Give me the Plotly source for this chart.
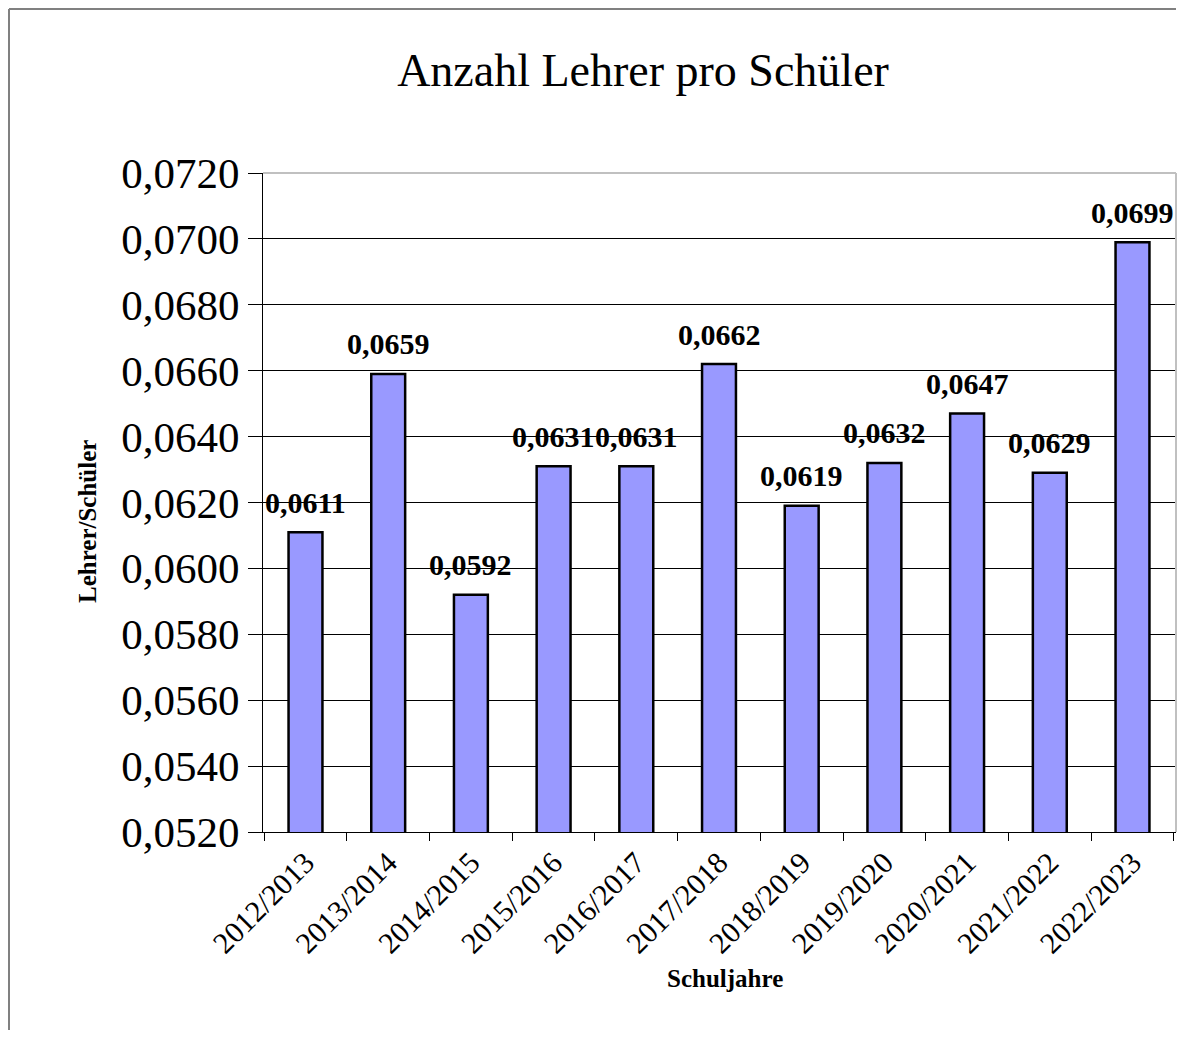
import plotly.graph_objects as go

categories = ["2012/2013", "2013/2014", "2014/2015", "2015/2016", "2016/2017",
              "2017/2018", "2018/2019", "2019/2020", "2020/2021", "2021/2022", "2022/2023"]
values = [0.0611, 0.0659, 0.0592, 0.0631, 0.0631, 0.0662, 0.0619, 0.0632, 0.0647, 0.0629, 0.0699]
y_ticks = [0.052, 0.054, 0.056, 0.058, 0.060, 0.062, 0.064, 0.066, 0.068, 0.070, 0.072]

OFF = 8  # page body margin
W, H = 1190 - 2 * OFF, 1039 - 2 * OFF
L, T = 263 - OFF, 173 - OFF
R = W - (1176 - OFF)
B = H - (832 - OFF)
pw, ph = W - L - R, H - T - B


def px_x(x):
    return (x - OFF - L) / pw


def px_y(y):
    return (H - B - (y - OFF)) / ph


SERIF = "Liberation Serif"

fig = go.Figure()
fig.add_trace(go.Bar(
    x=categories, y=values, width=0.41,
    marker=dict(color="#9999FF", line=dict(color="black", width=2.5)),
    hoverinfo="x+y",
))

annotations = []
for c, v in zip(categories, values):
    annotations.append(dict(
        x=c, y=v, xref="x", yref="y", text="<b>" + f"{v:.4f}".replace(".", ",") + "</b>",
        showarrow=False, yanchor="middle", yshift=30,
        font=dict(family=SERIF, size=30, color="black"),
    ))
annotations.append(dict(
    x=px_x(725), y=px_y(978), xref="paper", yref="paper",
    text="<b>Schuljahre</b>", showarrow=False, xanchor="center", yanchor="middle",
    font=dict(family=SERIF, size=25, color="black"),
))
annotations.append(dict(
    x=px_x(87), y=px_y(522), xref="paper", yref="paper",
    text="<b>Lehrer/Schüler</b>", showarrow=False, xanchor="center", yanchor="middle",
    textangle=-90, font=dict(family=SERIF, size=25, color="black"),
))

shapes = [
    # outer chart border: only left and top edges are visible in the reference
    dict(type="line", xref="paper", yref="paper",
         x0=px_x(9), x1=px_x(9), y0=px_y(1030), y1=px_y(9),
         line=dict(color="#808080", width=2), layer="above"),
    dict(type="line", xref="paper", yref="paper",
         x0=px_x(9), x1=px_x(1176), y0=px_y(9), y1=px_y(9),
         line=dict(color="#808080", width=2), layer="above"),
    # plot area top and right borders (light gray)
    dict(type="line", xref="paper", yref="paper", x0=0, x1=1, y0=1, y1=1,
         line=dict(color="#C0C0C0", width=2), layer="above"),
    dict(type="line", xref="paper", yref="paper", x0=1, x1=1, y0=0, y1=1,
         line=dict(color="#C0C0C0", width=2), layer="above"),
]

fig.update_layout(
    width=W, height=H,
    margin=dict(l=L, r=R, t=T, b=B),
    paper_bgcolor="white", plot_bgcolor="white",
    separators=",.",
    showlegend=False,
    title=dict(text="Anzahl Lehrer pro Schüler", x=(643 - OFF) / W, xanchor="center",
               y=1 - (70 - OFF) / H, yanchor="middle", xref="container", yref="container",
               font=dict(family=SERIF, size=46, color="black")),
    xaxis=dict(
        type="category", tickangle=-45, tickson="boundaries",
        ticks="outside", ticklen=8, tickcolor="black", tickwidth=1,
        showline=True, linecolor="black", linewidth=1,
        showgrid=False,
        tickfont=dict(family=SERIF, size=30, color="black"),
    ),
    yaxis=dict(
        range=[0.052, 0.072], tickvals=y_ticks, tickformat=".4f",
        ticks="outside", ticklen=14, tickcolor="black", tickwidth=1,
        showline=True, linecolor="black", linewidth=1,
        showgrid=True, gridcolor="black", gridwidth=1,
        zeroline=False,
        tickfont=dict(family=SERIF, size=43, color="black"),
    ),
    annotations=annotations,
    shapes=shapes,
)

fig.write_html("out.html")
